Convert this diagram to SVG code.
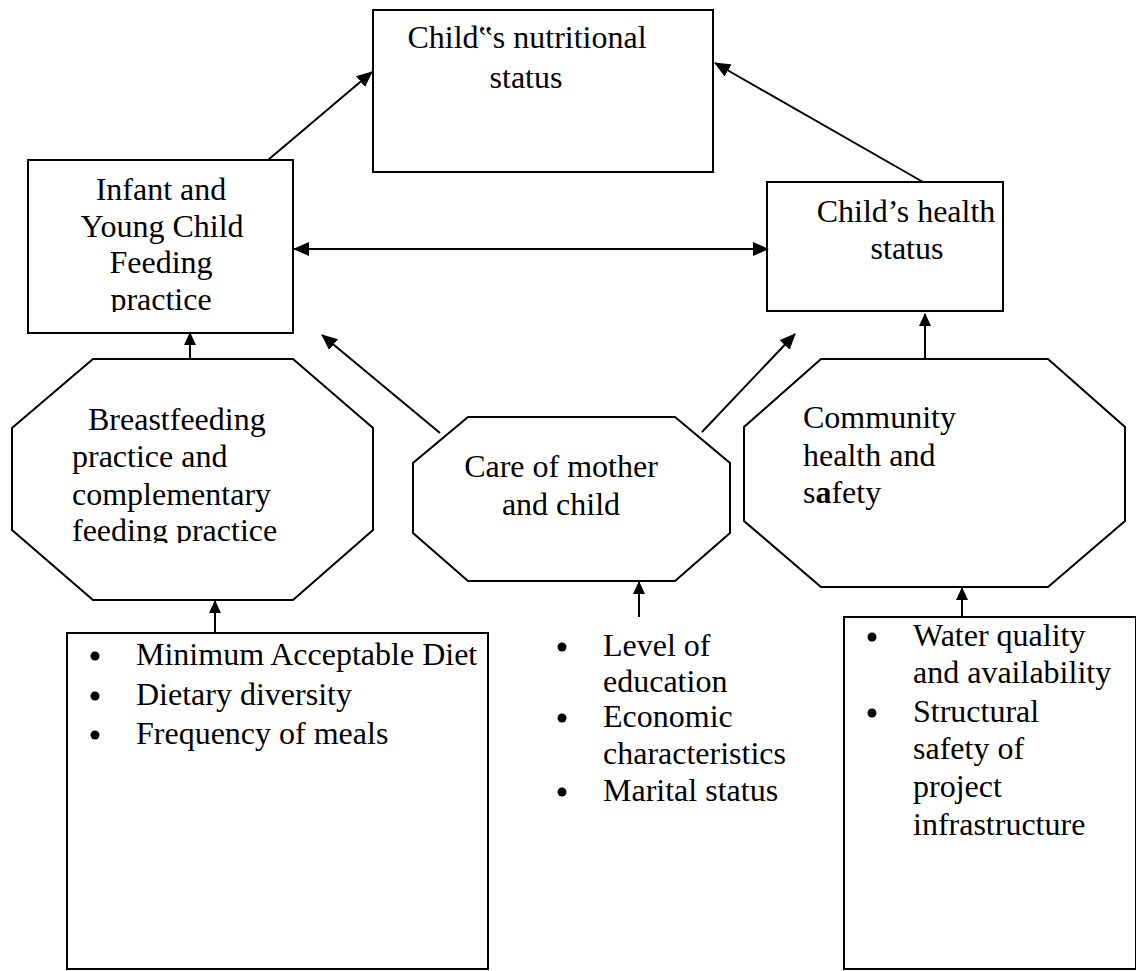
<svg xmlns="http://www.w3.org/2000/svg" width="1136" height="971" viewBox="0 0 1136 971">
<style>
.box{fill:#fff;stroke:#000;stroke-width:2}
.ln{stroke:#000;stroke-width:2;fill:none}
.dot{fill:#000}
</style>
<defs>
<marker id="ah" markerWidth="16" markerHeight="14" refX="15" refY="7" orient="auto" markerUnits="userSpaceOnUse"><path d="M0,0 L16,7 L0,14 Z" fill="#000"/></marker>
<marker id="ahs" markerWidth="13" markerHeight="12" refX="12" refY="6" orient="auto" markerUnits="userSpaceOnUse"><path d="M0,0 L13,6 L0,12 Z" fill="#000"/></marker>
<marker id="ahr" markerWidth="16" markerHeight="14" refX="1" refY="7" orient="auto" markerUnits="userSpaceOnUse"><path d="M16,0 L0,7 L16,14 Z" fill="#000"/></marker>
<clipPath id="clipInfant"><rect x="28" y="160" width="265" height="152"/></clipPath>
<clipPath id="clipBreast"><rect x="12" y="359" width="361" height="184"/></clipPath>
</defs>
<rect width="1136" height="971" fill="#fff"/>

<g font-family="Liberation Serif, Times New Roman, DejaVu Serif, serif" font-size="32" fill="#000">

<g id="nutritional">
<rect class="box" x="373" y="10" width="340" height="162"/>
<text text-anchor="middle" x="527" y="48">Child‟s nutritional</text>
<text text-anchor="middle" x="526" y="88">status</text>
</g>

<g id="iycf">
<rect class="box" x="28" y="160" width="265" height="173"/>
<g clip-path="url(#clipInfant)">
<text text-anchor="middle" x="161" y="200">Infant and</text>
<text text-anchor="middle" x="162" y="237">Young Child</text>
<text text-anchor="middle" x="161" y="273">Feeding</text>
<text text-anchor="middle" x="161" y="310">practice</text>
</g>
</g>

<g id="health">
<rect class="box" x="767" y="182" width="236" height="129"/>
<text text-anchor="middle" x="906" y="222">Child’s health</text>
<text text-anchor="middle" x="907" y="259">status</text>
</g>

<g id="breastfeeding">
<polygon class="box" points="93,359 293,359 373,428 373,530 293,600 93,600 12,530 12,428"/>
<g clip-path="url(#clipBreast)">
<text x="88" y="430">Breastfeeding</text>
<text x="72" y="467">practice and</text>
<text x="72" y="505">complementary</text>
<text x="72" y="541">feeding practice</text>
</g>
</g>

<g id="care">
<polygon class="box" points="468,417 675,417 730,463 730,533 675,581 468,581 413,533 413,463"/>
<text text-anchor="middle" x="561" y="477">Care of mother</text>
<text text-anchor="middle" x="561" y="515">and child</text>
</g>

<g id="community">
<polygon class="box" points="821,359 1048,359 1125,427 1125,521 1048,587 821,587 744,521 744,427"/>
<text x="803" y="428">Community</text>
<text x="803" y="466">health and</text>
<text x="803" y="503">s<tspan font-weight="bold">a</tspan>fety</text>
</g>

<g id="feeding-indicators">
<rect class="box" x="67" y="633" width="421" height="336"/>
<circle class="dot" cx="95" cy="656" r="4.5"/>
<circle class="dot" cx="95" cy="696" r="4.5"/>
<circle class="dot" cx="95" cy="735" r="4.5"/>
<text x="136" y="665">Minimum Acceptable Diet</text>
<text x="136" y="705">Dietary diversity</text>
<text x="136" y="744">Frequency of meals</text>
</g>

<g id="care-indicators">
<circle class="dot" cx="562" cy="647" r="4.5"/>
<circle class="dot" cx="562" cy="718" r="4.5"/>
<circle class="dot" cx="562" cy="792" r="4.5"/>
<text x="603" y="656">Level of</text>
<text x="603" y="692">education</text>
<text x="603" y="727">Economic</text>
<text x="603" y="764">characteristics</text>
<text x="603" y="801">Marital status</text>
</g>

<g id="community-indicators">
<rect class="box" x="844" y="617" width="292" height="352"/>
<circle class="dot" cx="872" cy="637" r="4.5"/>
<circle class="dot" cx="872" cy="713" r="4.5"/>
<text x="913" y="646">Water quality</text>
<text x="913" y="683">and availability</text>
<text x="913" y="722">Structural</text>
<text x="913" y="759">safety of</text>
<text x="913" y="797">project</text>
<text x="913" y="835">infrastructure</text>
</g>

</g>

<g id="connectors">
<line class="ln" x1="268" y1="160" x2="372" y2="72" marker-end="url(#ah)"/>
<line class="ln" x1="923" y1="182" x2="715" y2="63" marker-end="url(#ah)"/>
<line class="ln" x1="294" y1="249" x2="768" y2="249" marker-start="url(#ahr)" marker-end="url(#ah)"/>
<line class="ln" x1="190" y1="359" x2="190" y2="333" marker-end="url(#ahs)"/>
<line class="ln" x1="440" y1="433" x2="322" y2="335" marker-end="url(#ah)"/>
<line class="ln" x1="702" y1="432" x2="795" y2="334" marker-end="url(#ah)"/>
<line class="ln" x1="925" y1="359" x2="925" y2="314" marker-end="url(#ahs)"/>
<line class="ln" x1="215" y1="633" x2="215" y2="601" marker-end="url(#ahs)"/>
<line class="ln" x1="639" y1="617" x2="639" y2="582" marker-end="url(#ahs)"/>
<line class="ln" x1="962" y1="617" x2="962" y2="588" marker-end="url(#ahs)"/>
</g>
</svg>
